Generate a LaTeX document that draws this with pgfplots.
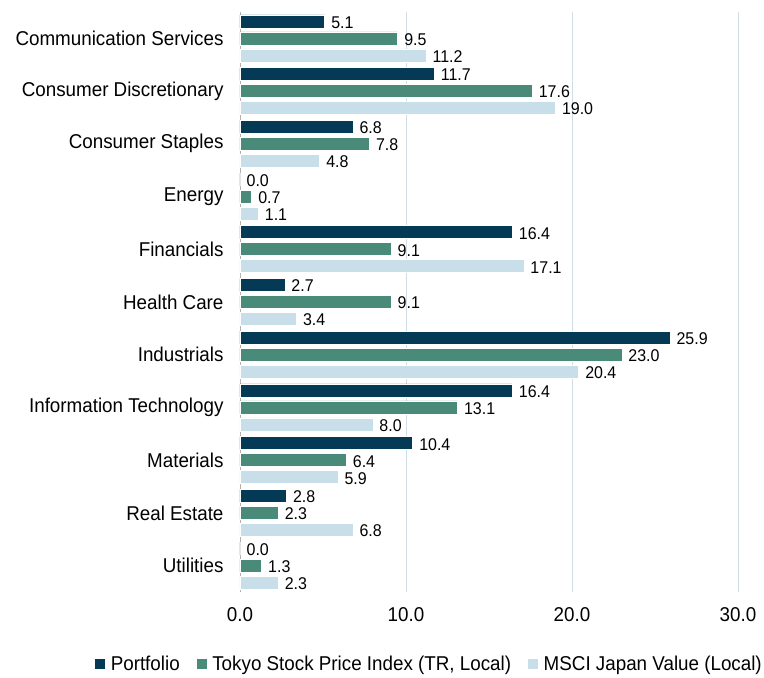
\documentclass[border=0pt]{standalone}
\usepackage{fontspec}
\setmainfont{Liberation Sans}[FakeStretch=0.94]
\usepackage{pgfplots}
\pgfplotsset{compat=1.18}
\definecolor{navy}{HTML}{053A57}
\definecolor{teal}{HTML}{4A8A78}
\definecolor{lblue}{HTML}{C8DEE8}
\definecolor{gridc}{HTML}{CFDDE6}
\begin{document}
\begin{tikzpicture}
\begin{axis}[
  name=ax,
  scale only axis,
  width=498pt, height=580pt,
  xmin=0, xmax=30,
  ymin=-0.5, ymax=10.5,
  y dir=reverse,
  xbar, bar width=13pt,
  axis x line*=bottom, axis y line*=left,
  x axis line style={draw=none},
  y axis line style={draw=gray!60},
  xtick={0,10,20,30},
  xticklabel style={/pgf/number format/fixed,/pgf/number format/fixed zerofill,/pgf/number format/precision=1},
  /pgf/number format/assume math mode=true,
  xmajorgrids, grid style={gridc, line width=0.8pt},
  major tick length=0pt,
  ytick={0,...,10},
  yticklabels={Communication Services,Consumer Discretionary,Consumer Staples,Energy,Financials,Health Care,Industrials,Information Technology,Materials,Real Estate,Utilities},
  tick label style={font=\fontsize{20}{23}\selectfont},
  yticklabel style={xshift=-13pt},
  xticklabel style={yshift=-12pt},
  nodes near coords={\pgfmathprintnumber[fixed,fixed zerofill,precision=1]{\pgfplotspointmeta}},
  every node near coord/.append style={font=\fontsize{17}{19}\selectfont, black, xshift=3pt, yshift=-1pt},
  legend style={draw=none, at={(1,0)}, anchor=north east, xshift=29pt, yshift=-60pt,
    legend columns=3, font=\fontsize{20}{23}\selectfont,
    /tikz/every odd column/.append style={column sep=3pt},
    /tikz/every even column/.append style={column sep=14pt}},
  legend image code/.code={\fill[#1] (0pt,-5.5pt) rectangle (11pt,5.5pt);},
  clip=false,
]
\addplot[fill=navy, draw=white, line width=0.6pt, bar shift=17pt] coordinates {
(5.1,0) (11.7,1) (6.8,2) (0.0,3) (16.4,4) (2.7,5) (25.9,6) (16.4,7) (10.4,8) (2.8,9) (0.0,10)};
\addplot[fill=teal, draw=white, line width=0.6pt, bar shift=0pt] coordinates {
(9.5,0) (17.6,1) (7.8,2) (0.7,3) (9.1,4) (9.1,5) (23.0,6) (13.1,7) (6.4,8) (2.3,9) (1.3,10)};
\addplot[fill=lblue, draw=white, line width=0.6pt, bar shift=-17pt] coordinates {
(11.2,0) (19.0,1) (4.8,2) (1.1,3) (17.1,4) (3.4,5) (20.4,6) (8.0,7) (5.9,8) (6.8,9) (2.3,10)};
\legend{Portfolio, {Tokyo Stock Price Index (TR, Local)}, {MSCI Japan Value (Local)}}
\end{axis}
\pgfresetboundingbox
\useasboundingbox ([xshift=-240pt,yshift=-85pt]ax.south west) rectangle ([xshift=26pt,yshift=12pt]ax.north east);
\end{tikzpicture}
\end{document}
